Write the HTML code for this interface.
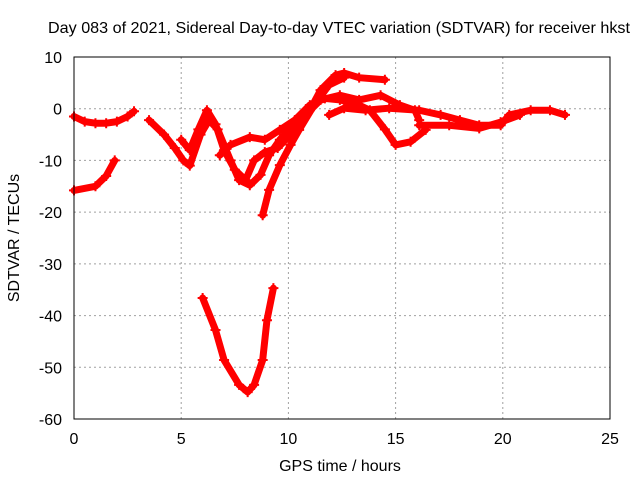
<!DOCTYPE html>
<html><head><meta charset="utf-8"><style>
body{margin:0;background:#fff}
svg text{font-family:"Liberation Sans",sans-serif;font-size:16px;fill:#000}
</style></head><body>
<svg id="chart" width="640" height="480" xmlns="http://www.w3.org/2000/svg">
<text x="339" y="33" text-anchor="middle" textLength="582" lengthAdjust="spacingAndGlyphs">Day 083 of 2021, Sidereal Day-to-day VTEC variation (SDTVAR) for receiver hkst</text>
<text x="340" y="471" text-anchor="middle">GPS time / hours</text>
<text transform="translate(19,238) rotate(-90)" text-anchor="middle">SDTVAR / TECUs</text>
<g id="grid"></g><g id="ticks"></g><g id="series"></g>
<rect x="74" y="57" width="536" height="362" fill="none" stroke="#000" stroke-width="1"/>
</svg>
<script>
const xTicks=[0,5,10,15,20,25];
const yTicks=[10,0,-10,-20,-30,-40,-50,-60];
const trackA_t=[0,0.5,1.0,1.5,2.0,2.5,2.8];
const trackA_v=[-1.5,-2.5,-2.8,-2.8,-2.5,-1.5,-0.5];
const trackB_t=[0,1,1.5,1.9];
const trackB_v=[-15.8,-15,-13,-10];
const trackC_t=[6,6.6,7.0,7.7,8.1,8.4,8.8,9.0,9.3];
const trackC_v=[-36.6,-42.8,-48.6,-53.4,-54.8,-53.4,-48.6,-40.9,-34.7];
const trackD_t=[3.5,4.2,4.7,5.1,5.4,5.9,6.3,6.7,7.3,7.7,8.2,8.7,9.1,9.6,10.1,10.5,11,11.5,12.2,12.6,13.3,14.5];
const trackD_v=[-2.2,-5,-7.6,-10,-11,-5,-2.2,-4,-10,-13.8,-14.8,-12.8,-9,-6,-3.7,-3.2,-0.3,3.6,6.5,6.9,6,5.6];
const trackE_t=[5,5.4,5.8,6.2,6.6,7,7.5,8,8.4,8.9,9.5,10.1,10.8,11.5,12.4,13.3,14.3,15.2,15.9,16.1];
const trackE_v=[-6,-8,-4,-0.3,-3,-8,-11.8,-13.8,-10,-8.4,-7.6,-5,-1.2,1.7,2.6,1.7,2.6,0.7,-0.3,-2.2];
const trackF_t=[6.8,7.3,8.2,8.9,9.6,10.3,11,11.7,12.4,13.3,13.8,14.5,15,15.7,16.4];
const trackF_v=[-9,-7,-5.5,-6,-4.1,-2.2,0.7,2,1.7,0.7,-0.3,-4,-7,-6.4,-4.1];
const trackG_t=[8.8,9.1,9.6,10.1,10.5,11.2,11.9,12.6];
const trackG_v=[-20.6,-15.7,-10.9,-7,-4.1,0.7,4.6,6];
const trackH_t=[11.9,12.6,13.6,14.7,16.1,17.1,18,18.9,19.9,20.3,21.3,22.2,22.9];
const trackH_v=[-1.2,0.1,-0.3,0.1,-0.3,-1.2,-2.2,-3.2,-3.2,-1.2,-0.3,-0.3,-1.2];
const trackI_t=[16.1,17.5,18.9,19.9,20.8];
const trackI_v=[-3.2,-3.2,-3.8,-2.6,-1.2];
const tracks=[[trackA_t,trackA_v],[trackB_t,trackB_v],[trackC_t,trackC_v],[trackD_t,trackD_v],[trackE_t,trackE_v],[trackF_t,trackF_v],[trackG_t,trackG_v],[trackH_t,trackH_v],[trackI_t,trackI_v]];
const X=t=>74+t*536/25, Y=v=>57+(10-v)*362/70;
const NS="http://www.w3.org/2000/svg";
const g=document.getElementById('grid'),tk=document.getElementById('ticks'),s=document.getElementById('series');
function mk(tag,attrs,parent){const e=document.createElementNS(NS,tag);for(const k in attrs)e.setAttribute(k,attrs[k]);parent.appendChild(e);return e;}
xTicks.forEach(t=>{
 if(t>0&&t<25){const l=mk('line',{x1:X(t),x2:X(t),y1:57,y2:419,stroke:'#a0a0a0','stroke-dasharray':'2,3'},g);
 
 }
 const tx=mk('text',{x:X(t),y:444,'text-anchor':'middle'},tk);tx.textContent=t;
 
 
});
yTicks.forEach(v=>{
 if(v<10&&v>-60){const l=mk('line',{x1:74,x2:610,y1:Y(v),y2:Y(v),stroke:'#a0a0a0','stroke-dasharray':'2,3'},g);
 
 }
 const tx=mk('text',{x:62,y:Y(v)+6,'text-anchor':'end'},tk);tx.textContent=v;
 
 
});
tracks.forEach((tr,i)=>{
 const pts=tr[0].map((t,j)=>X(t)+','+Y(tr[1][j])).join(' ');
 const pl=mk('polyline',{points:pts,fill:'none',stroke:'#ff0000','stroke-width':7,'stroke-linejoin':'round','stroke-linecap':'round'},s);
 
 
 tr[0].forEach((t,j)=>{
  const x=X(t),y=Y(tr[1][j]);
  const p=mk('path',{d:`M${x-5},${y}H${x+5}M${x},${y-5}V${y+5}`,stroke:'#ff0000','stroke-width':2},s);
  
  
 });
});
</script>
</body></html>
